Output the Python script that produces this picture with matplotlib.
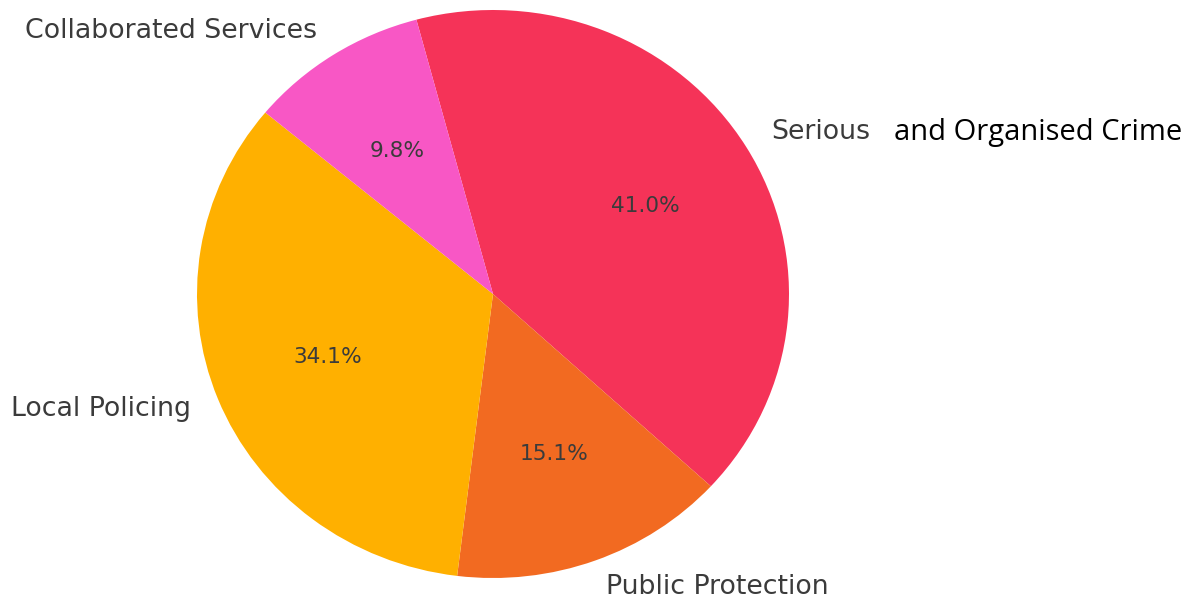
import matplotlib.pyplot as plt

# budget split by area
areas = ["Serious", "Public Protection", "Local Policing", "Collaborated Services"]
shares = [41.0, 15.1, 34.1, 9.8]
colours = ["#F53358", "#F26A21", "#FFB000", "#F857C5"]

fig = plt.figure(figsize=(11.95, 5.98), dpi=100)
ax = fig.add_axes([197 / 1195, 20 / 598, 592 / 1195, 568 / 598])

wedges, labels, pcts = ax.pie(
    shares, labels=areas, colors=colours, autopct="%1.1f%%",
    startangle=105, counterclock=False,
    textprops={"fontsize": 19.3, "color": "#3b3b3b"},
)
for t in pcts:
    t.set_fontsize(15.6)
    t.set_color("#3b3b3b")

ax.set_aspect("auto")
ax.set_xlim(-1, 1)
ax.set_ylim(-1, 1)

# rest of the first label, set in another face
ax.annotate("and Organised Crime", xy=(1, 0.5), xycoords=labels[0],
            xytext=(17, 0), textcoords="offset points",
            ha="left", va="center", fontsize=21, color="black",
            family="Open Sans")

fig.savefig("out.png", dpi=100)
plt.close(fig)
